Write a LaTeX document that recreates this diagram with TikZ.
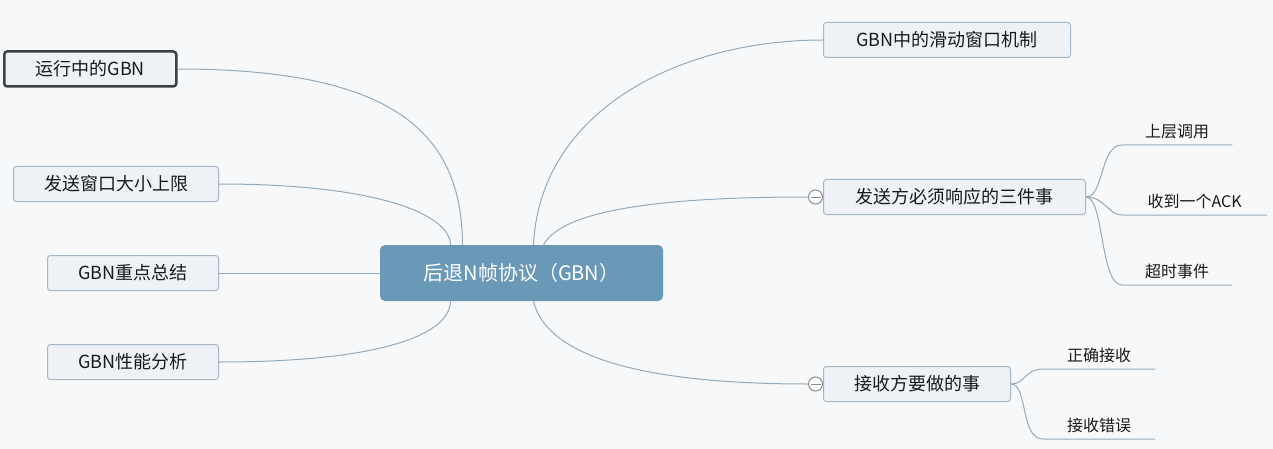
\documentclass[tikz,border=0pt]{standalone}
\usepackage{fontspec}
\setmainfont{Noto Sans CJK SC}
\usetikzlibrary{positioning}

\definecolor{bgcol}{HTML}{F7F8F9}
\definecolor{boxfill}{HTML}{EEF2F6}
\definecolor{boxline}{HTML}{A3B6C7}
\definecolor{rootfill}{HTML}{6A99B8}
\definecolor{linkcol}{HTML}{93AABC}
\definecolor{darkline}{HTML}{3C4249}

\tikzset{
  topic/.style={draw=boxline, fill=boxfill, rounded corners=3pt, line width=1pt,
    minimum height=35pt, inner sep=0pt, text=black!90,
    font=\fontsize{18}{20}\selectfont},
  leaf/.style={inner sep=0pt, inner ysep=6pt, text=black!90,
    font=\fontsize{16}{18}\selectfont},
  link/.style={draw=linkcol, line width=1pt},
  fold/.style={circle, draw=black!45, fill=white, line width=1pt,
    minimum size=14pt, inner sep=0pt,
    path picture={\draw[black!45, line width=1pt]
      ([xshift=2pt]path picture bounding box.west) --
      ([xshift=-2pt]path picture bounding box.east);}}
}

\begin{document}
\begin{tikzpicture}[x=1pt, y=-1pt]
  \fill[bgcol] (0,0) rectangle (1273,449);
  \useasboundingbox (0,0) rectangle (1273,449);

  % root
  \node (gbn) [fill=rootfill, rounded corners=5pt, minimum width=283pt,
    minimum height=56pt, text=white, font=\fontsize{20}{22}\selectfont]
    at (521.5,273) {后退N帧协议（GBN）};

  % left side
  \node (running) [topic, draw=darkline, line width=2.5pt, minimum width=172pt,
    anchor=west] at (3,69) {运行中的GBN};
  \node (winlimit) [topic, minimum width=205pt, anchor=east] at (219,184) {发送窗口大小上限};
  \node (summary) [topic, minimum width=171pt, anchor=east] at (219,273) {GBN重点总结};
  \node (perf) [topic, minimum width=171pt, anchor=east] at (219,362) {GBN性能分析};

  % right side
  \node (sliding) [topic, minimum width=247pt, anchor=west] at (823,40) {GBN中的滑动窗口机制};
  \node (sender) [topic, minimum width=262pt, anchor=west] at (823,197) {发送方必须响应的三件事};
  \node (receiver) [topic, minimum width=187pt, anchor=west] at (823,384) {接收方要做的事};
  \node (foldS) [fold, left=0pt of sender] {};
  \node (foldR) [fold, left=0pt of receiver] {};

  % leaves
  \node (upper) [leaf, minimum width=110pt, anchor=south west] at (1122,145) {上层调用};
  \node (ack) [leaf, minimum width=145pt, anchor=south west] at (1122,215) {收到一个ACK};
  \node (timeout) [leaf, minimum width=110pt, anchor=south west] at (1122,285) {超时事件};
  \node (okrecv) [leaf, minimum width=112pt, anchor=south west] at (1043,369) {正确接收};
  \node (errrecv) [leaf, minimum width=112pt, anchor=south west] at (1043,439) {接收错误};

  % connectors from root
  \draw[link] (running.east) .. controls (390,69) and (462,130) .. ([xshift=-59pt]gbn.north);
  \draw[link] (winlimit.east) .. controls (380,184) and (450,215) .. ([xshift=-71pt]gbn.north);
  \draw[link] (summary.east) -- (gbn.west);
  \draw[link] (perf.east) .. controls (380,362) and (450,335) .. ([xshift=-71pt]gbn.south);
  \draw[link] ([xshift=12pt]gbn.north) .. controls (540,110) and (680,40) .. (sliding.west);
  \draw[link] ([xshift=22pt]gbn.north) .. controls (565,205) and (690,197) .. (foldS.west);
  \draw[link] ([xshift=12pt]gbn.south) .. controls (550,370) and (690,384) .. (foldR.west);

  % connectors to leaves
  \draw[link] (sender.east) .. controls (1104,197) and (1100,145) .. (upper.south west) -- (upper.south east);
  \draw[link] (sender.east) .. controls (1105,197) and (1108,215) .. (ack.south west) -- (ack.south east);
  \draw[link] (sender.east) .. controls (1104,197) and (1100,285) .. (timeout.south west) -- (timeout.south east);
  \draw[link] (receiver.east) .. controls (1025,384) and (1025,369) .. (okrecv.south west) -- (okrecv.south east);
  \draw[link] (receiver.east) .. controls (1028,384) and (1020,439) .. (errrecv.south west) -- (errrecv.south east);
\end{tikzpicture}
\end{document}
